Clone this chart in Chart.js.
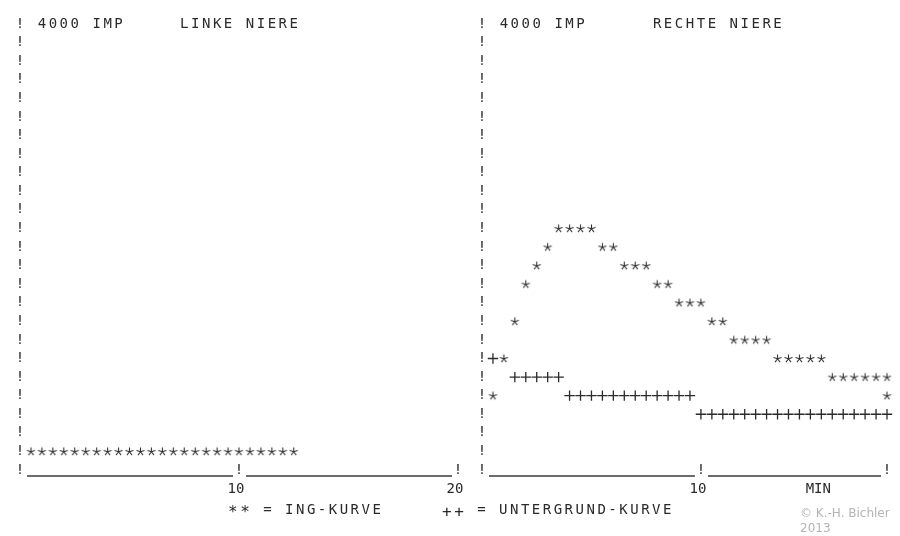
<!DOCTYPE html>
<html>
<head>
<meta charset="utf-8">
<script src="https://cdn.jsdelivr.net/npm/chart.js@4.4.1/dist/chart.umd.min.js"></script>
<style>
    html, body { margin: 0; padding: 0; background: #fff; }
    #page { position: relative; width: 900px; height: 536px; overflow: hidden; background: #fff; }
    #left-chart { position: absolute; left: 0; top: 0; }
    #right-chart { position: absolute; left: 470px; top: 0; }
    .legend {
        position: absolute; top: 499px; height: 18px; line-height: 18px;
        font: 14px "DejaVu Sans Mono", monospace; letter-spacing: 2.5px;
        color: #2a2a2a; white-space: pre;
    }
    .legend .sym { position: relative; top: 3px; font-size: 16px; }
    .copy { position: absolute; left: 800px; font: 12px "DejaVu Sans", sans-serif; color: #b4b4b4; }
</style>
</head>
<body>
<div id="page">
    <canvas id="left-chart" width="470" height="536"></canvas>
    <canvas id="right-chart" width="430" height="536"></canvas>
    <div class="legend" style="left:228px"><span class="sym">**</span> = ING-KURVE</div>
    <div class="legend" style="left:442px"><span class="sym">++</span> = UNTERGRUND-KURVE</div>
    <div class="copy" style="top:506px">© K.-H. Bichler</div>
    <div class="copy" style="top:521px">2013</div>
</div>
<script>
// time in minutes, counts in impulses (one row ~ 167 IMP)
const left_ing_times = [0.5, 1.0, 1.5, 2.0, 2.5, 3.0, 3.5, 4.0, 4.5, 5.0, 5.5, 6.0, 6.5,
    7.0, 7.5, 8.0, 8.5, 9.0, 9.5, 10.0, 10.5, 11.0, 11.5, 12.0, 12.5];
const left_ing_values = [167, 167, 167, 167, 167, 167, 167, 167, 167, 167, 167, 167, 167,
    167, 167, 167, 167, 167, 167, 167, 167, 167, 167, 167, 167];

const right_ing_times = [0.5, 1.0, 1.5, 2.0, 2.5, 3.0, 3.5, 4.0, 4.5, 5.0, 5.5, 6.0, 6.5,
    7.0, 7.5, 8.0, 8.5, 9.0, 9.5, 10.0, 10.5, 11.0, 11.5, 12.0, 12.5, 13.0, 13.5, 14.0,
    14.5, 15.0, 15.5, 16.0, 16.5, 17.0, 17.5, 18.0, 18.5, 18.5];
const right_ing_values = [667, 1000, 1333, 1667, 1833, 2000, 2167, 2167, 2167, 2167, 2000,
    2000, 1833, 1833, 1833, 1667, 1667, 1500, 1500, 1500, 1333, 1333, 1167, 1167, 1167,
    1167, 1000, 1000, 1000, 1000, 1000, 833, 833, 833, 833, 833, 833, 667];

const right_bg_times = [0.5, 1.5, 2.0, 2.5, 3.0, 3.5, 4.0, 4.5, 5.0, 5.5, 6.0, 6.5, 7.0,
    7.5, 8.0, 8.5, 9.0, 9.5, 10.0, 10.5, 11.0, 11.5, 12.0, 12.5, 13.0, 13.5, 14.0, 14.5,
    15.0, 15.5, 16.0, 16.5, 17.0, 17.5, 18.0, 18.5];
const right_bg_values = [1000, 833, 833, 833, 833, 833, 667, 667, 667, 667, 667, 667, 667,
    667, 667, 667, 667, 667, 500, 500, 500, 500, 500, 500, 500, 500, 500, 500, 500, 500,
    500, 500, 500, 500, 500, 500];

const left_tick_values = [10, 20];
const left_tick_labels = ["10", "20"];
const right_tick_values = [10, 15.5];
const right_tick_labels = ["10", "MIN"];

const imp_full_scale = 4000;
const print_rows = 24;

const INK = "#2a2a2a";
const MONO = "\"DejaVu Sans Mono\", monospace";

/**
 * Printer asterisk as a small canvas, used as point style.
 * @returns {HTMLCanvasElement} glyph.
 */
function make_star_glyph() {
    const c = document.createElement("canvas");
    c.width = 11;
    c.height = 11;
    const ctx = c.getContext("2d");
    ctx.strokeStyle = "#333";
    ctx.lineWidth = 1.1;
    ctx.lineCap = "butt";
    ctx.beginPath();
    for (let i = 0; i < 5; i++) {
        const a = (-90 + i * 72) * Math.PI / 180;
        ctx.moveTo(5.5, 5.8);
        ctx.lineTo(5.5 + Math.cos(a) * 4.2, 5.8 + Math.sin(a) * 4.2);
    }
    ctx.stroke();
    return c;
}

const star_glyph = make_star_glyph();

// draws the "!" frame, the underscored time axis and the header line
const printout_plugin = {
    id: "printout",
    afterDraw(chart, args, opts) {
        const ctx = chart.ctx;
        const xs = chart.scales.x;
        const ys = chart.scales.y;
        const col = xs.getPixelForValue(0.5) - xs.getPixelForValue(0);
        const x0 = xs.getPixelForValue(0);
        ctx.save();
        ctx.fillStyle = INK;
        ctx.strokeStyle = "#3a3a3a";
        ctx.font = "14px " + MONO;
        ctx.textAlign = "center";
        ctx.textBaseline = "middle";

        ys.ticks.forEach((t) => {
            ctx.fillText("!", x0, ys.getPixelForValue(t.value));
        });

        const y0 = ys.getPixelForValue(0);
        const marks = opts.axis_marks;
        ctx.lineWidth = 1.4;
        for (let i = 1; i < marks.length; i++) {
            const px = xs.getPixelForValue(marks[i]);
            const prev = xs.getPixelForValue(marks[i - 1]);
            ctx.fillText("!", px, y0);
            ctx.beginPath();
            ctx.moveTo(prev + 7, y0 + 6);
            ctx.lineTo(px - 6, y0 + 6);
            ctx.stroke();
        }

        const yt = ys.getPixelForValue(imp_full_scale);
        opts.header.forEach((h) => {
            for (let i = 0; i < h.text.length; i++) {
                ctx.fillText(h.text[i], x0 + (h.col + i) * col, yt);
            }
        });
        ctx.restore();
    }
};

function make_chart(canvas_id, series, x_max, tick_values, tick_labels, padding, opts) {
    const el = document.getElementById(canvas_id);
    if (el === null) {
        throw Error("failed finding " + canvas_id);
    }
    const datasets = series.map((s) => ({
        label: s.label,
        data: s.times.map((t, i) => ({x: t, y: s.values[i]})),
        pointStyle: s.style,
        pointRadius: s.style === "cross" ? 5.2 : 6,
        pointBorderWidth: 1.3,
        borderColor: INK,
        backgroundColor: INK,
        showLine: false,
        clip: false
    }));

    return new Chart(el, {
        type: "scatter",
        data: {datasets: datasets},
        options: {
            responsive: false,
            animation: false,
            events: [],
            layout: {padding: padding},
            plugins: {
                legend: {display: false},
                tooltip: {enabled: false},
                printout: opts
            },
            scales: {
                x: {
                    type: "linear",
                    min: 0,
                    max: x_max,
                    grid: {display: false, drawTicks: false},
                    border: {display: false},
                    afterBuildTicks: (scale) => {
                        scale.ticks = tick_values.map((v) => ({value: v}));
                    },
                    afterFit: (scale) => {
                        scale.height = 40;
                        scale.paddingLeft = 0;
                        scale.paddingRight = 0;
                    },
                    ticks: {
                        autoSkip: false,
                        maxRotation: 0,
                        padding: 11,
                        labelOffset: -3,
                        color: INK,
                        font: {family: MONO, size: 14},
                        callback: (value) => tick_labels[tick_values.indexOf(value)]
                    }
                },
                y: {
                    type: "linear",
                    min: 0,
                    max: imp_full_scale,
                    grid: {display: false, drawTicks: false},
                    border: {display: false},
                    afterFit: (scale) => {
                        scale.width = 0;
                    },
                    ticks: {display: false, stepSize: imp_full_scale / print_rows}
                }
            }
        },
        plugins: [printout_plugin]
    });
}

make_chart("left-chart",
    [{label: "ING-Kurve", times: left_ing_times, values: left_ing_values, style: star_glyph}],
    20, left_tick_values, left_tick_labels,
    {left: 20, right: 12, top: 24, bottom: 26},
    {
        axis_marks: [0, 10, 20],
        header: [{text: "4000 IMP", col: 2}, {text: "LINKE NIERE", col: 15}]
    });

make_chart("right-chart",
    [
        {label: "Untergrund-Kurve", times: right_bg_times, values: right_bg_values, style: "cross"},
        {label: "ING-Kurve", times: right_ing_times, values: right_ing_values, style: star_glyph}
    ],
    18.5, right_tick_values, right_tick_labels,
    {left: 12, right: 13, top: 24, bottom: 26},
    {
        axis_marks: [0, 10, 18.5],
        header: [{text: "4000 IMP", col: 2}, {text: "RECHTE NIERE", col: 16}]
    });
</script>
</body>
</html>
